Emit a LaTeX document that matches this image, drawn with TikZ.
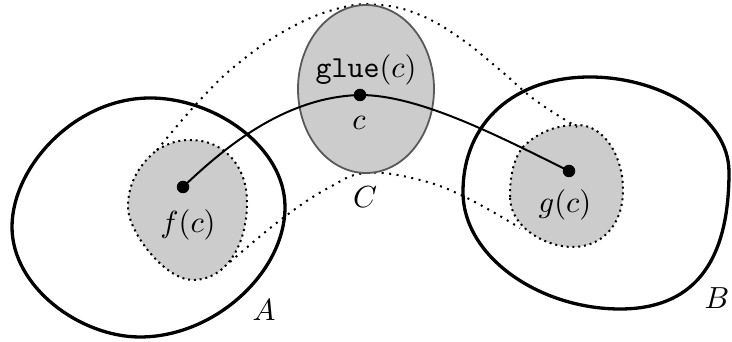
\documentclass[tikz,border=0pt]{standalone}
\usetikzlibrary{shapes.geometric}
\tikzset{
  x=1pt,y=1pt,
  outline/.style={line width=3.3pt,black},
  blobfill/.style={fill=black!20},
  blobedge/.style={draw=black,line width=2pt,dash pattern=on 2pt off 3.8pt},
  dottedcurve/.style={line width=2pt,dash pattern=on 2pt off 5.5pt},
  setC/.style={ellipse,fill=black!20,draw=black!65,line width=1.8pt},
  dotnode/.style={circle,fill=black,inner sep=0pt,minimum size=12.5pt},
  lbl/.style={inner sep=0pt,scale=3.05},
  curvepath/.style={line width=2pt}
}
\begin{document}
\begin{tikzpicture}
\useasboundingbox (0,0) rectangle (732,342);
\def\fblob{(157,192) .. controls (170,200) and (180,202) .. (190,202) .. controls (225,202) and (247,175) .. (247,140) .. controls (247,95) and (225,62) .. (193,62) .. controls (165,62) and (128,110) .. (128,135) .. controls (128,160) and (140,178) .. (157,192) -- cycle}
\def\gblob{(510,145) .. controls (510,170) and (515,185) .. (523,195) .. controls (540,212) and (560,217) .. (577,217) .. controls (605,217) and (623,185) .. (623,152) .. controls (623,115) and (600,95) .. (573,95) .. controls (545,95) and (510,115) .. (510,145) -- cycle}
% inner blobs
\fill[blobfill] \fblob;
\fill[blobfill] \gblob;
\draw[blobedge] \fblob;
\draw[blobedge] \gblob;
% outlines A and B
\draw[outline] (12,115) .. controls (12,175) and (75,244) .. (150,244)
  .. controls (215,244) and (285,195) .. (285,135)
  .. controls (285,70) and (215,5) .. (140,5)
  .. controls (80,5) and (12,55) .. (12,115) -- cycle;
\draw[outline] (463,150) .. controls (463,220) and (515,265) .. (590,265)
  .. controls (660,265) and (729,225) .. (729,170)
  .. controls (729,75) and (690,33) .. (620,33)
  .. controls (540,33) and (463,85) .. (463,150) -- cycle;
% dotted connectors
\draw[dottedcurve] plot[smooth,tension=0.7] coordinates {(157,192) (200,242) (240,280) (290,314) (340,334) (380,337) (420,327) (460,304) (500,272) (535,242) (577,215)};
\draw[dottedcurve] plot[smooth,tension=0.7] coordinates {(230,80) (283,124) (330,155) (367,169) (420,162) (467,144) (520,114)};
% set C
\node[setC,minimum width=136pt,minimum height=168pt,inner sep=0pt] (C) at (366,253) {};
% points
\node[dotnode] (fd) at (183,155) {};
\node[dotnode] (cd) at (360,247) {};
\node[dotnode] (gd) at (569,171) {};
\draw[curvepath] (fd.center) .. controls (225,195) and (285,245) .. (cd.center)
                        .. controls (420,247) and (500,205) .. (gd.center);
% labels
\node[lbl] (glue) at (366,272) {\texttt{glue}$(c)$};
\node[lbl] (cl) at (359,219) {$c$};
\node[lbl] (Cl) at (365,145) {$C$};
\node[lbl] (fl) at (188,117) {$f(c)$};
\node[lbl] (gl) at (565,137) {$g(c)$};
\node[lbl] (Al) at (264,32) {$A$};
\node[lbl] (Bl) at (717,44) {$B$};
\end{tikzpicture}
\end{document}
